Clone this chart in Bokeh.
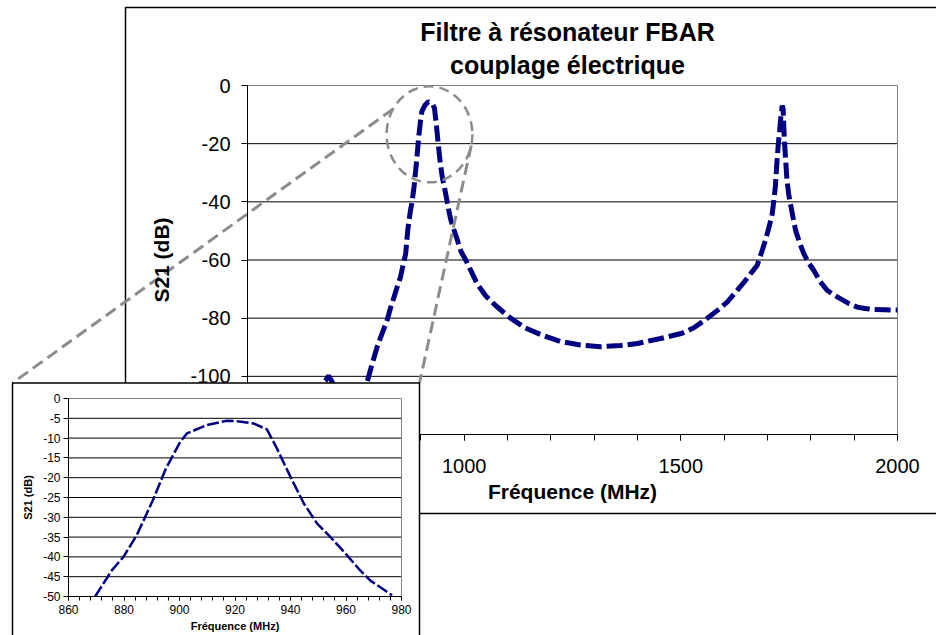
import math

from bokeh.embed import file_html
from bokeh.models import FixedTicker, Label, LinearAxis, Range1d
from bokeh.plotting import figure
from bokeh.resources import INLINE

FONT = "Liberation Sans"
NAVY = "#000080"
GRAY = "#8c8c8c"

# Measured transmission S21 of the FBAR filter (MHz, dB)
freq_mhz = [
    500, 540, 580, 620, 650, 670, 680, 687, 694, 705, 720, 740, 755, 765,
    776, 787, 799, 810, 822, 830, 838, 846, 853, 860, 865,
    869.6, 875.6, 879.8, 884.6, 890.4, 895.1, 900.3, 902.7, 909.9, 917.1,
    921.5, 926.7, 931.5, 935.1, 940.0, 944.8, 949.6, 954.4, 960.4, 964.6,
    968.8, 976.6, 984, 993, 1003, 1015, 1030, 1050, 1075, 1107, 1140, 1176,
    1222, 1268, 1315, 1361, 1400, 1453, 1503, 1530, 1557, 1583, 1607, 1628,
    1645, 1662, 1676, 1686, 1695, 1703, 1711, 1718, 1722, 1725, 1728, 1731,
    1734, 1736, 1739, 1742, 1745, 1749, 1753, 1759, 1765, 1774, 1784, 1795,
    1807, 1822, 1838, 1853, 1868, 1888, 1907, 1925, 1945, 1970, 1995, 2000,
]
s21_db = [
    -112, -110, -108, -106, -104, -103, -101.5, -99.8, -101.5, -105, -110,
    -112, -109, -106,
    -102, -96, -90, -85.5, -80.8, -76.5, -72.8, -69, -65.9, -61, -57.9,
    -50, -43.4, -40, -34.5, -25.7, -17.7, -10.9, -8.8, -6.7, -5.6,
    -5.8, -6.3, -7.8, -12.6, -19.8, -26.5, -31.6, -35, -39.6, -43,
    -46, -49.7, -53, -57.2, -59.8, -63.5, -68.2, -72.4, -76, -80, -83.3,
    -85.6, -88, -89.2, -89.8, -89.4, -88.7, -87, -85.2, -83.3, -80.5, -77.5,
    -74.5, -70.8, -67.8, -64.5, -61.9, -57.5, -53.3, -49, -44.1, -35, -25.8,
    -20, -15.5, -10.5, -6.9, -8, -18.9, -26, -32.7, -37.5, -40.7, -45.5,
    -49.9, -54, -57.9, -61, -63.6, -67.5, -70.5, -72, -73.3, -75, -76.2,
    -76.7, -77, -77.1, -77.2, -77.2,
]

title_lines = ["Filtre à résonateur FBAR", "couplage électrique"]
x_label = "Fréquence (MHz)"
y_label = "S21 (dB)"

main_x_ticks = [500, 1000, 1500, 2000]
main_x_tick_labels = ["500", "1000", "1500", "2000"]
main_x_minor = list(range(500, 2001, 100))
main_y_ticks = [0, -20, -40, -60, -80, -100, -120]
main_y_tick_labels = ["0", "-20", "-40", "-60", "-80", "-100", "-120"]

inset_x_ticks = [860, 880, 900, 920, 940, 960, 980]
inset_x_tick_labels = ["860", "880", "900", "920", "940", "960", "980"]
inset_x_minor = list(range(860, 981, 4))
inset_y_ticks = [0, -5, -10, -15, -20, -25, -30, -35, -40, -45, -50]
inset_y_tick_labels = ["0", "-5", "-10", "-15", "-20", "-25", "-30",
                       "-35", "-40", "-45", "-50"]

# zoomed region highlighted on the main chart (centre, full width/height)
zoom_cx, zoom_cy, zoom_w, zoom_h = 920, -16.8, 198, 33

# ---- page geometry (pixels, y downwards) ------------------------------
W, H = 936, 635
M_L, M_R, M_T, M_B = 247, 897, 85, 434         # main plot area
MX0, MX1, MY0, MY1 = 500, 2000, -120, 0        # main data window
I_L, I_R, I_T, I_B = 68, 401, 398, 596         # inset plot area
IX0, IX1, IY0, IY1 = 860, 980, -50, 0          # inset data window
BOX_L, BOX_R, BOX_T, BOX_B = 12, 419, 382.5, 640   # inset panel
CHART_L, CHART_T, CHART_R, CHART_B = 125, 7, 945, 513


def page_ranges(px0, px1, py0, py1, x0, x1, y0, y1):
    """Data ranges that put the window [x0,x1]x[y0,y1] on the given pixels
    of a frame covering the whole page."""
    kx = (x1 - x0) / (px1 - px0)
    ky = (y1 - y0) / (py1 - py0)
    xr = Range1d(start=x0 - px0 * kx, end=x0 + (W - px0) * kx)
    yr = Range1d(start=y1 - (H - py0) * ky, end=y1 + py0 * ky)
    return xr, yr


def main_to_px(x, y):
    return (M_L + (x - MX0) * (M_R - M_L) / (MX1 - MX0),
            M_T + (MY1 - y) * (M_B - M_T) / (MY1 - MY0))


p = figure(width=W, height=H, x_range=Range1d(0, W), y_range=Range1d(H, 0),
           x_axis_type=None, y_axis_type=None, min_border=0,
           output_backend="svg", toolbar_location=None)
p.outline_line_color = None
p.background_fill_color = "white"
p.border_fill_color = "white"

mxr, myr = page_ranges(M_L, M_R, M_T, M_B, MX0, MX1, MY0, MY1)
ixr, iyr = page_ranges(I_L, I_R, I_T, I_B, IX0, IX1, IY0, IY1)
p.extra_x_ranges = {"mx": mxr, "ix": ixr}
p.extra_y_ranges = {"my": myr, "iy": iyr}
M = dict(x_range_name="mx", y_range_name="my")
I = dict(x_range_name="ix", y_range_name="iy")


def make_axis(where, names, loc, bounds, ticks, labels, minor, tick_size,
              label_size, tick_out, label_standoff, title, title_standoff,
              level="guide"):
    ax = LinearAxis(fixed_location=loc, bounds=bounds, level=level,
                    ticker=FixedTicker(ticks=ticks, minor_ticks=minor),
                    major_label_overrides=dict(zip(ticks, labels)),
                    axis_label=title, **names)
    ax.axis_line_color = "black"
    ax.major_tick_line_color = "black"
    ax.minor_tick_line_color = "black"
    ax.major_tick_in = 0
    ax.minor_tick_in = 0
    ax.major_tick_out = tick_out
    ax.minor_tick_out = tick_out
    ax.major_label_standoff = label_standoff
    ax.major_label_text_font = FONT
    ax.major_label_text_font_size = tick_size
    ax.major_label_text_color = "black"
    ax.axis_label_standoff = title_standoff
    ax.axis_label_text_font = FONT
    ax.axis_label_text_font_size = label_size
    ax.axis_label_text_font_style = "bold"
    ax.axis_label_text_color = "black"
    p.add_layout(ax, where)


# ---- chart border and title --------------------------------------------
p.quad(left=[CHART_L], right=[CHART_R], top=[CHART_T], bottom=[CHART_B],
       fill_color=None, line_color="black", line_width=1.5)
for text, ypx in zip(title_lines, (31, 64)):
    p.add_layout(Label(x=567, y=ypx, text=text, text_align="center",
                       text_baseline="middle", text_font=FONT,
                       text_font_size="25px", text_font_style="bold",
                       text_color="black"))

# ---- main chart -----------------------------------------------------------
main_grid = [t for t in main_y_ticks if MY0 < t < MY1]
p.segment(x0=[MX0] * len(main_grid), x1=[MX1] * len(main_grid),
          y0=main_grid, y1=main_grid, line_color="black", line_width=1, **M)
p.quad(left=[MX0], right=[MX1], bottom=[MY0], top=[MY1], fill_color=None,
       line_color="#808080", line_width=1, **M)

p.line(freq_mhz, s21_db, line_color=NAVY, line_width=5, line_dash="16 5", **M)

p.ellipse(x=[zoom_cx], y=[zoom_cy], width=[zoom_w], height=[zoom_h],
          fill_color=None, line_color=GRAY, line_width=2.5, line_dash="10 6",
          **M)

# connectors from the highlighted region to the inset corners
conn_x, conn_y = [], []
for deg, corner_x in ((148, BOX_L), (-13.5, BOX_R)):
    a = math.radians(deg)
    sx, sy = main_to_px(zoom_cx + zoom_w / 2 * math.cos(a),
                        zoom_cy + zoom_h / 2 * math.sin(a))
    conn_x.append([sx, corner_x])
    conn_y.append([sy, BOX_T])
p.multi_line(conn_x, conn_y, line_color=GRAY, line_width=3, line_dash="12 6")

make_axis("left", M, MX0, (MY0, MY1), main_y_ticks, main_y_tick_labels, [],
          "20px", "21px", 6, 11, y_label, 14)
make_axis("below", M, MY0, (MX0, MX1), main_x_ticks, main_x_tick_labels,
          main_x_minor, "20px", "21px", 6, 18, x_label, 4)

# ---- inset: detail of the first passband ---------------------------------
p.quad(left=[BOX_L], right=[BOX_R], top=[BOX_T], bottom=[BOX_B],
       fill_color="white", line_color="black", line_width=1.5,
       level="annotation")
inset_grid = [t for t in inset_y_ticks if IY0 < t < IY1]
p.segment(x0=[IX0] * len(inset_grid), x1=[IX1] * len(inset_grid),
          y0=inset_grid, y1=inset_grid, line_color="black", line_width=1,
          level="annotation", **I)
p.quad(left=[IX0], right=[IX1], bottom=[IY0], top=[IY1], fill_color=None,
       line_color="#808080", line_width=1, level="annotation", **I)

inset_f = [f for f, s in zip(freq_mhz, s21_db) if IX0 <= f <= IX1 and s >= IY0]
inset_s = [s for f, s in zip(freq_mhz, s21_db) if IX0 <= f <= IX1 and s >= IY0]
p.line(inset_f, inset_s, line_color=NAVY, line_width=2.5, line_dash="12 3",
       level="annotation", **I)

make_axis("left", I, IX0, (IY0, IY1), inset_y_ticks, inset_y_tick_labels, [],
          "12px", "11px", 5, 3, y_label, 6, level="overlay")
make_axis("below", I, IY0, (IX0, IX1), inset_x_ticks, inset_x_tick_labels,
          inset_x_minor, "12px", "11px", 4, 4, x_label, 3, level="overlay")

open("out.html", "w").write(file_html(p, INLINE))
